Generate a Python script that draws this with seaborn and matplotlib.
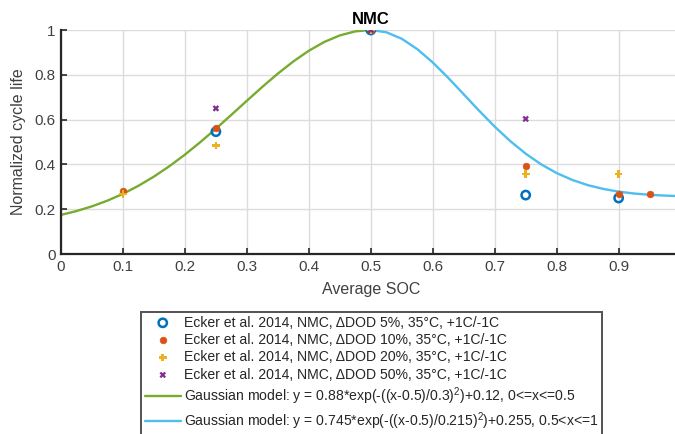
import numpy as np
import pandas as pd
import matplotlib
matplotlib.use("Agg")
import matplotlib.pyplot as plt
import seaborn as sns

# ── Data ───────────────────────────────────────────────
soc_dod5 = [0.25, 0.5, 0.75, 0.9]
life_dod5 = [0.546, 1.0, 0.263, 0.25]

soc_dod10 = [0.1, 0.25, 0.5, 0.75, 0.9, 0.95]
life_dod10 = [0.28, 0.564, 1.0, 0.392, 0.27, 0.268]

soc_dod20 = [0.1, 0.25, 0.5, 0.75, 0.9]
life_dod20 = [0.267, 0.484, 1.0, 0.357, 0.357]

soc_dod50 = [0.25, 0.5, 0.75]
life_dod50 = [0.65, 1.0, 0.603]

# model curves (step 0.025)
soc_low = [0.0, 0.025, 0.05, 0.075, 0.1, 0.125, 0.15, 0.175, 0.2, 0.225, 0.25,
           0.275, 0.3, 0.325, 0.35, 0.375, 0.4, 0.425, 0.45, 0.475, 0.5]
life_low = [0.1747, 0.1917, 0.2128, 0.2383, 0.2687, 0.3045, 0.3456, 0.3921,
            0.4437, 0.4998, 0.5594, 0.6214, 0.6842, 0.7462, 0.8054, 0.8597,
            0.9075, 0.9467, 0.9759, 0.9939, 1.0]
soc_high = [0.5, 0.525, 0.55, 0.575, 0.6, 0.625, 0.65, 0.675, 0.7, 0.725, 0.75,
            0.775, 0.8, 0.825, 0.85, 0.875, 0.9, 0.925, 0.95, 0.975, 1.0]
life_high = [1.0, 0.9900, 0.9608, 0.9146, 0.8551, 0.7863, 0.7129, 0.6391,
             0.5686, 0.5042, 0.4478, 0.4001, 0.3613, 0.3308, 0.3076, 0.2906,
             0.2784, 0.2700, 0.2643, 0.2607, 0.2583]

x_ticklabels = ["0", "0.1", "0.2", "0.3", "0.4", "0.5", "0.6", "0.7", "0.8", "0.9", ""]
y_ticklabels = ["0", "0.2", "0.4", "0.6", "0.8", "1"]

labels = [
    "Ecker et al. 2014, NMC, ΔDOD 5%, 35°C, +1C/-1C",
    "Ecker et al. 2014, NMC, ΔDOD 10%, 35°C, +1C/-1C",
    "Ecker et al. 2014, NMC, ΔDOD 20%, 35°C, +1C/-1C",
    "Ecker et al. 2014, NMC, ΔDOD 50%, 35°C, +1C/-1C",
    "Gaussian model: y = 0.88*exp(-((x-0.5)/0.3)$^2$)+0.12, 0<=x<=0.5",
    "Gaussian model: y = 0.745*exp(-((x-0.5)/0.215)$^2$)+0.255, 0.5<x<=1",
]

# ── Setup ──────────────────────────────────────────────
sns.set_theme(style="whitegrid")
plt.rcParams["font.family"] = ["Liberation Sans", "DejaVu Sans"]
plt.rcParams["mathtext.fontset"] = "custom"
plt.rcParams["mathtext.rm"] = "Liberation Sans"
plt.rcParams["mathtext.it"] = "Liberation Sans"

dark = "#262626"
grey = "#404040"

fig = plt.figure(figsize=(6.75, 4.34), dpi=100)
# axes run past the right edge of the image, as in the reference
ax = fig.add_axes([61 / 675, 180 / 434, 619.6 / 675, 224 / 434])
ax.set_facecolor("white")

sns.lineplot(x=soc_low, y=life_low, color="#77ac30", linewidth=1.7,
             label=labels[4], ax=ax, zorder=2)
sns.lineplot(x=soc_high, y=life_high, color="#4dbeee", linewidth=1.7,
             label=labels[5], ax=ax, zorder=2)

sns.scatterplot(x=soc_dod5, y=life_dod5, marker="o", s=36,
                facecolors="none", edgecolors="#0072bd", linewidth=1.8,
                label=labels[0], ax=ax, zorder=3)
sns.scatterplot(x=soc_dod10, y=life_dod10, marker="o", s=24,
                color="#d95319", edgecolor="#d95319",
                label=labels[1], ax=ax, zorder=3)
sns.scatterplot(x=soc_dod20, y=life_dod20, marker="P", s=30,
                color="#edb120", edgecolor="none",
                label=labels[2], ax=ax, zorder=3)
sns.scatterplot(x=soc_dod50, y=life_dod50, marker="X", s=22,
                color="#7e2f8e", edgecolor="none",
                label=labels[3], ax=ax, zorder=3)

ax.set_xlim(0, 1)
ax.set_ylim(0, 1)
ax.set_xticks(np.arange(0, 1.01, 0.1))
ax.set_yticks(np.arange(0, 1.01, 0.2))
ax.set_xticklabels(x_ticklabels)
ax.set_yticklabels(y_ticklabels)
ax.grid(True, color="#dcdcdc", linewidth=1.0)
ax.tick_params(direction="in", length=4, width=1.2, colors=dark,
               labelcolor=grey, labelsize=11, pad=4,
               bottom=True, left=True)
for side in ["top", "right"]:
    ax.spines[side].set_visible(False)
for side in ["left", "bottom"]:
    ax.spines[side].set_color(dark)
    ax.spines[side].set_linewidth(1.6)

ax.set_xlabel("Average SOC", fontsize=11.5, color=grey, labelpad=6)
ax.set_ylabel("Normalized cycle life", fontsize=11.5, color=grey, labelpad=6)
ax.set_title("NMC", fontsize=12, fontweight="bold", color="black", pad=4)

handles, lbls = ax.get_legend_handles_labels()
order = [2, 3, 4, 5, 0, 1]
leg = ax.legend([handles[i] for i in order], [lbls[i] for i in order],
                loc="upper left", bbox_to_anchor=(141 / 675, 1 - 312 / 434),
                bbox_transform=fig.transFigure, fontsize=10.1,
                frameon=True, fancybox=False, edgecolor=dark,
                borderpad=0.25, handlelength=2.6, handletextpad=0.2,
                labelspacing=0.24, borderaxespad=0)
leg.get_frame().set_linewidth(1.4)
for t in leg.get_texts():
    t.set_color(dark)

plt.savefig("out.png", dpi=100)
plt.close()
